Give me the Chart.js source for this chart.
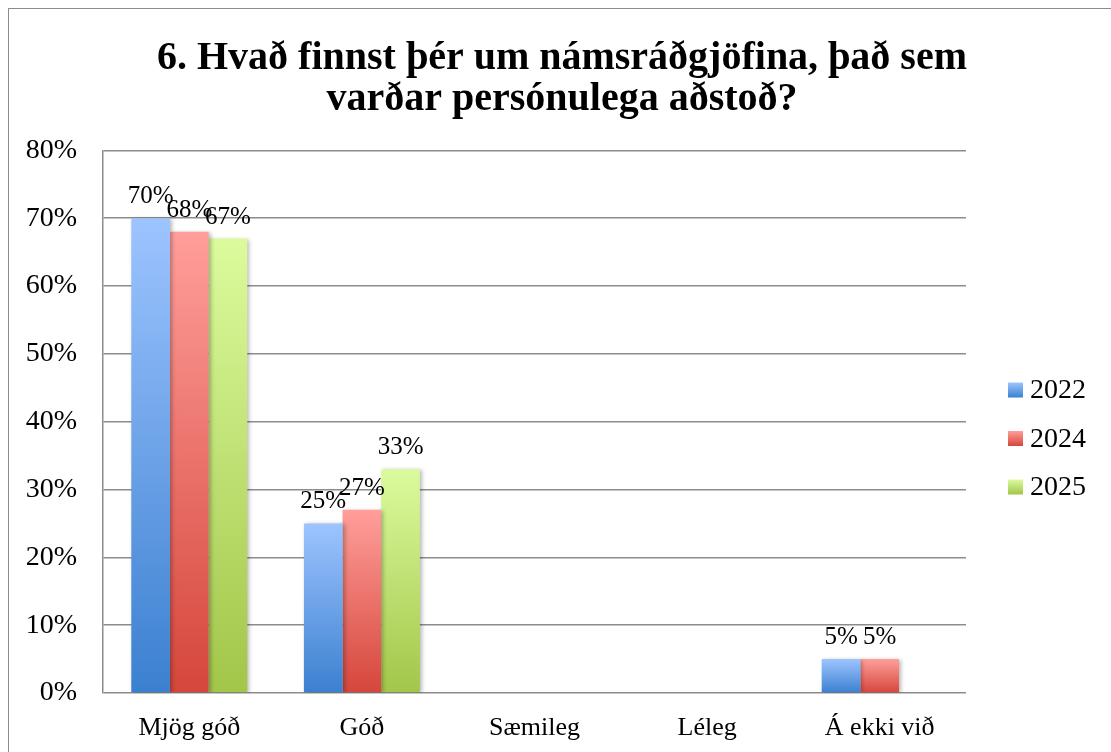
<!DOCTYPE html>
<html>
<head>
<meta charset="utf-8">
<script src="https://cdn.jsdelivr.net/npm/chart.js@4.4.1/dist/chart.umd.min.js"></script>
<style>
  html, body { margin: 0; padding: 0; background: #fff; overflow: hidden; }
  #wrap { position: relative; width: 1111px; height: 752px; }
  #frame { position: absolute; left: 8px; top: 8px; width: 1120px; height: 760px; border: 1.5px solid #8c8c8c; box-sizing: border-box; pointer-events: none; }
  canvas { position: absolute; left: 0; top: 0; }
</style>
</head>
<body>
<div id="wrap">
  <canvas id="c" width="1111" height="752"></canvas>
  <div id="frame"></div>
</div>
<script>
const categories = ['Mjög góð', 'Góð', 'Sæmileg', 'Léleg', 'Á ekki við'];
const seriesNames = ['2022', '2024', '2025'];
const values2022 = [70, 25, 0, 0, 5];
const values2024 = [68, 27, 0, 0, 5];
const values2025 = [67, 33, 0, 0, 0];
const yTickMin = 0, yTickMax = 80, yTickStep = 10;
const titleLines = ['6. Hvað finnst þér um námsráðgjöfina, það sem', 'varðar persónulega aðstoð?'];

const FONT = '"Liberation Serif", "Times New Roman", serif';
const gradStops = [
  ['#9dc4ff', '#3b80d0'],
  ['#ff9e9a', '#d5463b'],
  ['#dbfb9d', '#a2c649']
];

function barGradient(c) {
  const chart = c.chart;
  const i = c.datasetIndex;
  const ys = chart.scales && chart.scales.y;
  if (!chart.chartArea || !ys || c.dataIndex === undefined) return gradStops[i][1];
  const v = c.dataset.data[c.dataIndex];
  const top = ys.getPixelForValue(v);
  const bot = ys.getPixelForValue(0);
  if (!isFinite(top) || !isFinite(bot) || bot - top < 0.5) return gradStops[i][1];
  const g = chart.ctx.createLinearGradient(0, top, 0, bot);
  g.addColorStop(0, gradStops[i][0]);
  g.addColorStop(1, gradStops[i][1]);
  return g;
}

const barStyle = {
  id: 'barStyle',
  beforeDatasetsDraw(chart) {
    const ctx = chart.ctx;
    ctx.save();
    ctx.shadowColor = 'rgba(0,0,0,0.28)';
    ctx.shadowBlur = 4;
    ctx.shadowOffsetX = 2;
    ctx.shadowOffsetY = 1;
  },
  afterDatasetsDraw(chart) {
    const ctx = chart.ctx;
    ctx.restore();
    // data labels
    ctx.save();
    ctx.font = '25px ' + FONT;
    ctx.fillStyle = '#000';
    ctx.textAlign = 'center';
    ctx.textBaseline = 'alphabetic';
    chart.data.datasets.forEach((ds, i) => {
      const meta = chart.getDatasetMeta(i);
      meta.data.forEach((el, j) => {
        const v = ds.data[j];
        if (!v) return;
        ctx.fillText(v + '%', el.x, el.y - 15);
      });
    });
    ctx.restore();
  },
  afterDraw(chart) {
    // legend
    const ctx = chart.ctx;
    ctx.save();
    const boxX = 1008, box = 15, textX = 1030;
    const ys = [390, 438.5, 487];
    chart.data.datasets.forEach((ds, i) => {
      const y = ys[i];
      const g = ctx.createLinearGradient(0, y - box / 2, 0, y + box / 2);
      g.addColorStop(0, gradStops[i][0]);
      g.addColorStop(1, gradStops[i][1]);
      ctx.fillStyle = g;
      ctx.fillRect(boxX, y - box / 2, box, box);
      ctx.fillStyle = '#000';
      ctx.font = '28px ' + FONT;
      ctx.textAlign = 'left';
      ctx.textBaseline = 'middle';
      ctx.fillText(ds.label, textX, y + 1);
    });
    ctx.restore();
  }
};

const gridColor = '#8c8c8c';

new Chart(document.getElementById('c'), {
  type: 'bar',
  data: {
    labels: categories,
    datasets: [
      { label: seriesNames[0], data: values2022, backgroundColor: barGradient },
      { label: seriesNames[1], data: values2024, backgroundColor: barGradient },
      { label: seriesNames[2], data: values2025, backgroundColor: barGradient }
    ]
  },
  options: {
    responsive: false,
    animation: false,
    devicePixelRatio: 1,
    datasets: { bar: { categoryPercentage: 0.672, barPercentage: 1.0, borderWidth: 0 } },
    layout: { padding: { left: 13, right: 0, top: 0, bottom: 0 } },
    plugins: {
      legend: { display: false },
      tooltip: { enabled: false },
      title: {
        display: true,
        text: titleLines,
        color: '#000',
        font: { family: FONT, size: 40, weight: 'bold', lineHeight: 1.03 },
        padding: { top: 38, bottom: 30 }
      }
    },
    scales: {
      x: {
        grid: { display: false },
        border: { display: false },
        ticks: { color: '#000', font: { family: FONT, size: 26 }, padding: 12, maxRotation: 0 },
        afterFit(s) { s.height = 59; }
      },
      y: {
        min: yTickMin, max: yTickMax,
        ticks: { stepSize: yTickStep, color: '#000', font: { family: FONT, size: 28 }, padding: 26,
                 callback: v => v + '%' },
        grid: { color: gridColor, lineWidth: 1.5, drawTicks: false },
        border: { display: true, color: gridColor, width: 1.5 },
        afterFit(s) { s.width = 90; }
      },
      yRight: {
        position: 'right',
        display: true,
        min: 0, max: 1,
        ticks: { display: false },
        grid: { display: false, drawTicks: false },
        border: { display: false },
        afterFit(s) { s.width = 145; }
      }
    }
  },
  plugins: [barStyle]
});
</script>
</body>
</html>
